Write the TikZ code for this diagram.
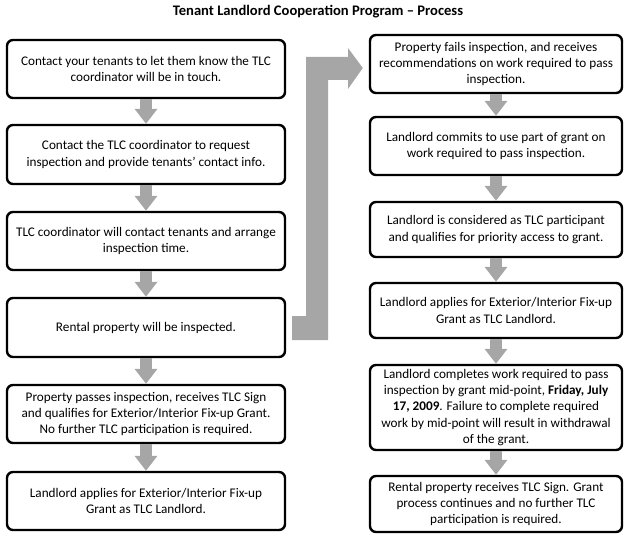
\documentclass[tikz,border=0pt]{standalone}
\usepackage{fontspec}
\setmainfont{Carlito}
\usetikzlibrary{calc}
\usetikzlibrary{arrows.meta}
\definecolor{flowgray}{HTML}{A6A6A6}

\begin{document}
\begin{tikzpicture}[x=1pt, y=-1pt,
  box/.style={draw, line width=2.4pt, rounded corners=6pt, fill=white, align=center, inner sep=0pt, font=\fontsize{13.2}{16.3}\selectfont},
  lbox/.style={box, minimum width=278pt},
  rbox/.style={box, minimum width=252pt},
  flow/.style={draw=flowgray, line width=12pt, -{Triangle[width=22pt, length=15pt]}}]
\useasboundingbox (0, 0) rectangle (625, 543);

% title
\node[font=\bfseries\fontsize{14.6}{17}\selectfont] (title) at (318, 12) {Tenant Landlord Cooperation Program -- Process};

% left column

\node[lbox, minimum height=58pt] (b1) at (146, 69) {Contact your tenants to let them know the TLC\\coordinator will be in touch.};
\node[lbox, minimum height=59pt] (b2) at (146, 154.5) {Contact the TLC coordinator to request\\inspection and provide tenants’ contact info.};
\node[lbox, minimum height=58pt] (b3) at (146, 241) {TLC coordinator will contact tenants and arrange\\inspection time.};
\node[lbox, minimum height=59pt] (b4) at (146, 327.5) {Rental property will be inspected.};
\node[lbox, minimum height=58pt] (b5) at (146, 414) {Property passes inspection, receives TLC Sign\\and qualifies for Exterior/Interior Fix-up Grant.\\No further TLC participation is required.};
\node[lbox, minimum height=58pt] (b6) at (146, 501) {Landlord applies for Exterior/Interior Fix-up\\Grant as TLC Landlord.};

% right column

\node[rbox, minimum height=58pt] (r1) at (496, 64) {Property fails inspection, and receives\\recommendations on work required to pass\\inspection.};
\node[rbox, minimum height=58pt] (r2) at (496, 146) {Landlord commits to use part of grant on\\work required to pass inspection.};
\node[rbox, minimum height=55pt] (r3) at (496, 229.5) {Landlord is considered as TLC participant\\and qualifies for priority access to grant.};
\node[rbox, minimum height=55pt] (r4) at (496, 310.5) {Landlord applies for Exterior/Interior Fix-up\\Grant as TLC Landlord.};
\node[rbox, minimum height=85pt] (r5) at (496, 407.5) {Landlord completes work required to pass\\inspection by grant mid-point, \textbf{Friday, July}\\\textbf{17, 2009}. Failure to complete required\\work by mid-point will result in withdrawal\\of the grant.};
\node[rbox, minimum height=56pt] (r6) at (496, 504) {Rental property receives TLC Sign. Grant\\process continues and no further TLC\\participation is required.};

% arrows

\foreach \a/\b in {b1/b2, b2/b3, b3/b4, b4/b5, b5/b6, r1/r2, r2/r3, r3/r4, r4/r5, r5/r6}
  \draw[flow] (\a) -- (\b);

% big bent arrow from the inspection to the failed branch

\coordinate (F1) at (292, 340);
\coordinate (F2) at (328, 340);
\coordinate (F3) at (328, 80);
\coordinate (H1) at (348, 80);
\coordinate (H2) at (348, 89);
\coordinate (T) at ($(r1.west) + (-6, 4)$);
\coordinate (H3) at (348, 48);
\coordinate (H4) at (348, 57);
\coordinate (F4) at (306, 57);
\coordinate (F5) at (306, 316);
\coordinate (F6) at (292, 316);
\fill[flowgray] (F1) -- (F2) -- (F3) -- (H1) -- (H2) -- (T) -- (H3) -- (H4) -- (F4) -- (F5) -- (F6) -- cycle;

\end{tikzpicture}
\end{document}
